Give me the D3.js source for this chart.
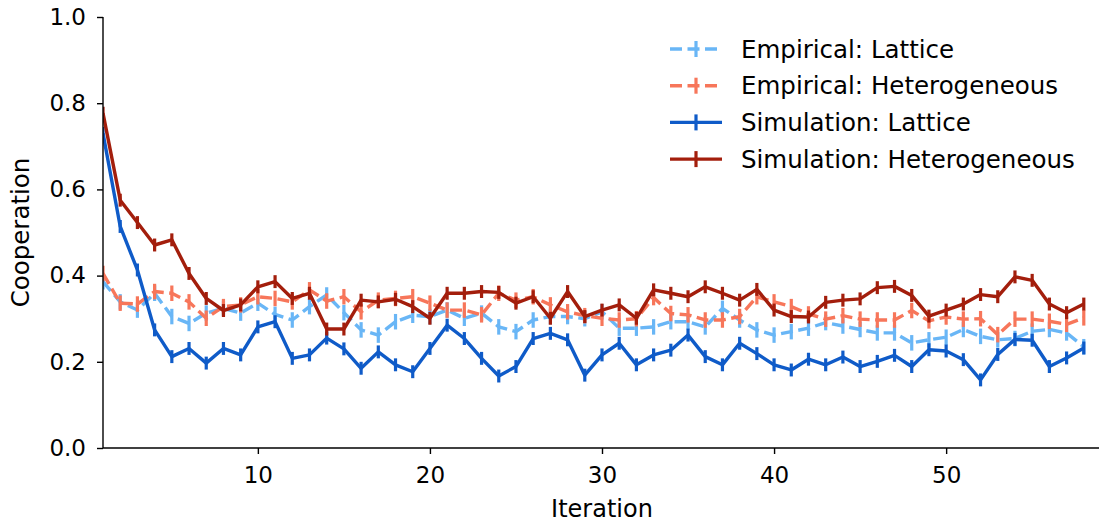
<!DOCTYPE html>
<html>
<head>
<meta charset="utf-8">
<script src="https://cdn.jsdelivr.net/npm/d3@7"></script>
<style>
  html, body { margin: 0; padding: 0; background: #fff; }
  svg { display: block; font-family: "DejaVu Sans", sans-serif; }
</style>
</head>
<body>
<svg id="chart" width="1099" height="524"></svg>
<script>
// Cooperation level per iteration (1..58) for each condition
const empiricalLattice = [0.386,0.339,0.320,0.359,0.305,0.289,0.313,0.324,0.313,0.336,0.310,0.297,0.328,0.355,0.314,0.274,0.262,0.293,0.308,0.305,0.320,0.301,0.313,0.281,0.270,0.297,0.305,0.305,0.300,0.316,0.278,0.278,0.281,0.293,0.293,0.281,0.324,0.297,0.274,0.262,0.270,0.278,0.291,0.283,0.275,0.267,0.267,0.244,0.251,0.257,0.275,0.259,0.251,0.254,0.271,0.275,0.267,0.235];
const empiricalHetero = [0.405,0.336,0.334,0.363,0.359,0.339,0.301,0.328,0.332,0.351,0.347,0.339,0.367,0.341,0.351,0.316,0.343,0.347,0.351,0.336,0.320,0.320,0.309,0.359,0.343,0.351,0.332,0.316,0.307,0.301,0.297,0.300,0.349,0.312,0.309,0.297,0.297,0.305,0.351,0.339,0.328,0.311,0.299,0.307,0.299,0.297,0.297,0.319,0.295,0.304,0.299,0.300,0.263,0.299,0.299,0.294,0.287,0.302];
const simulationLattice = [0.730,0.514,0.413,0.274,0.212,0.231,0.197,0.231,0.216,0.281,0.293,0.208,0.216,0.255,0.230,0.185,0.223,0.193,0.177,0.231,0.285,0.254,0.208,0.167,0.189,0.254,0.266,0.251,0.169,0.216,0.243,0.193,0.216,0.227,0.262,0.212,0.193,0.243,0.219,0.193,0.181,0.206,0.193,0.211,0.189,0.201,0.215,0.189,0.228,0.225,0.205,0.158,0.217,0.252,0.250,0.189,0.209,0.232];
const simulationHetero = [0.777,0.575,0.523,0.471,0.483,0.405,0.347,0.319,0.332,0.374,0.386,0.347,0.359,0.276,0.276,0.343,0.339,0.345,0.328,0.301,0.359,0.359,0.363,0.361,0.336,0.351,0.301,0.363,0.305,0.320,0.332,0.301,0.367,0.359,0.351,0.374,0.359,0.343,0.368,0.320,0.305,0.304,0.338,0.343,0.346,0.372,0.375,0.354,0.306,0.320,0.334,0.356,0.351,0.397,0.389,0.334,0.314,0.334];

// standard errors (half-length of the vertical bars)
const empiricalError = 0.018;
const simulationError = 0.015;

const seriesNames = ["Empirical: Lattice", "Empirical: Heterogeneous", "Simulation: Lattice", "Simulation: Heterogeneous"];
const xTicks = [10, 20, 30, 40, 50];
const yTicks = [0.0, 0.2, 0.4, 0.6, 0.8, 1.0];

const series = [
  { name: seriesNames[0], values: empiricalLattice, err: empiricalError, color: "#69b6f6", dashed: true },
  { name: seriesNames[1], values: empiricalHetero, err: empiricalError, color: "#f7765a", dashed: true },
  { name: seriesNames[2], values: simulationLattice, err: simulationError, color: "#0f5bc8", dashed: false },
  { name: seriesNames[3], values: simulationHetero, err: simulationError, color: "#a31e0c", dashed: false }
];

const W = 1099, H = 524;
const plotLeft = 103, plotRight = 1101, plotTop = 17, plotBottom = 448;
const svg = d3.select("#chart");

// x axis runs one step past the last iteration; the figure edge crops it
const x = d3.scaleLinear().domain([1, 59]).range([plotLeft, plotRight]);
const y = d3.scaleLinear().domain([0, 1]).range([plotBottom, plotTop]);

svg.append("defs").append("clipPath").attr("id", "plotClip")
  .append("rect")
  .attr("x", plotLeft).attr("y", plotTop - 20)
  .attr("width", plotRight - plotLeft)
  .attr("height", plotBottom - plotTop + 20);

const lineGen = d3.line().x((d, i) => x(i + 1)).y(d => y(d));
const DASH = "12,5.5";

const plot = svg.append("g").attr("clip-path", "url(#plotClip)");
series.forEach(s => {
  const g = plot.append("g");
  g.selectAll("line.err").data(s.values).join("line")
    .attr("class", "err")
    .attr("x1", (d, i) => x(i + 1)).attr("x2", (d, i) => x(i + 1))
    .attr("y1", d => y(d - s.err)).attr("y2", d => y(d + s.err))
    .attr("stroke", s.color).attr("stroke-width", 3.2);
  g.append("path").datum(s.values)
    .attr("d", lineGen)
    .attr("fill", "none")
    .attr("stroke", s.color)
    .attr("stroke-width", 3.4)
    .attr("stroke-linejoin", "round")
    .attr("stroke-dasharray", s.dashed ? DASH : null);
});

// axes
const xAxis = d3.axisBottom(x).tickValues(xTicks).tickSize(6).tickPadding(13).tickFormat(d3.format("d"));
const yAxis = d3.axisLeft(y).tickValues(yTicks).tickSize(6).tickPadding(11).tickFormat(d3.format(".1f"));

const gx = svg.append("g").attr("transform", `translate(0,${plotBottom})`).call(xAxis);
const gy = svg.append("g").attr("transform", `translate(${plotLeft},0)`).call(yAxis);
[gx, gy].forEach(g => {
  g.select(".domain").attr("stroke", "#000").attr("stroke-width", 1.4);
  g.selectAll(".tick line").attr("stroke", "#000").attr("stroke-width", 1.4);
  g.selectAll(".tick text").attr("fill", "#000").style("font-size", "23px").style("font-family", "DejaVu Sans");
});
gx.select(".domain").attr("d", `M${plotLeft},0H${plotRight}`);
gy.select(".domain").attr("d", `M0,${y(0)}V${y(1)}`);

svg.append("text")
  .attr("x", (plotLeft + plotRight) / 2).attr("y", 517)
  .attr("text-anchor", "middle")
  .style("font-size", "24px")
  .text("Iteration");

svg.append("text")
  .attr("transform", `translate(29,${(plotTop + plotBottom) / 2}) rotate(-90)`)
  .attr("text-anchor", "middle")
  .style("font-size", "24.5px")
  .text("Cooperation");

// legend
const legend = svg.append("g").attr("transform", "translate(670,49)");
series.forEach((s, i) => {
  const row = legend.append("g").attr("transform", `translate(0,${i * 36.7})`);
  row.append("line")
    .attr("x1", 0).attr("x2", 52).attr("y1", 0).attr("y2", 0)
    .attr("stroke", s.color).attr("stroke-width", 3.4)
    .attr("stroke-dasharray", s.dashed ? DASH : null);
  row.append("line")
    .attr("x1", 26).attr("x2", 26).attr("y1", -8).attr("y2", 8)
    .attr("stroke", s.color).attr("stroke-width", 3.2);
  row.append("text")
    .attr("x", 71).attr("y", 0).attr("dy", "0.35em")
    .style("font-size", "24.5px")
    .text(s.name);
});
</script>
</body>
</html>
